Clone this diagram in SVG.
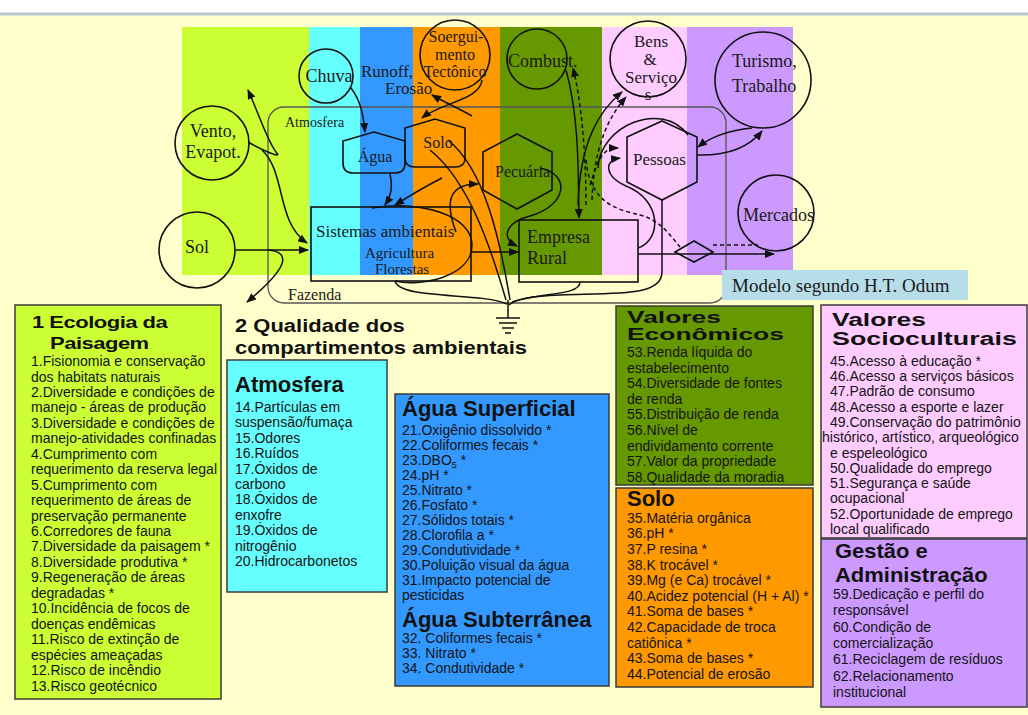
<svg xmlns="http://www.w3.org/2000/svg" width="1028" height="715" viewBox="0 0 1028 715">
<defs>
<style>
.lbl{font-family:"Liberation Serif","Times New Roman",serif;fill:#1a1a1a}
.it{font-family:"Liberation Sans",Arial,sans-serif;font-size:14px;fill:#141414}
.tt{font-family:"Liberation Sans",Arial,sans-serif;font-size:22px;font-weight:bold;fill:#111}
.box{stroke:#3a3a3a;stroke-width:1.5}
.ln{fill:none;stroke:#111;stroke-width:1.5}
.da{stroke-dasharray:4 3}
.sh{fill:none;stroke:#111;stroke-width:1.6}
</style>
<marker id="ah" viewBox="0 0 10 8" refX="9" refY="4" markerWidth="10" markerHeight="8" markerUnits="userSpaceOnUse" orient="auto"><path d="M0,0 L10,4 L0,8 z" fill="#111"/></marker>
</defs>

<!-- background -->
<rect x="0" y="0" width="1028" height="715" fill="#ffffcc"/>
<rect x="0" y="0" width="1028" height="13" fill="#ffffff"/>
<line x1="0" y1="14" x2="1028" y2="14" stroke="#b9cad6" stroke-width="3"/>

<!-- color bands -->
<g id="bands">
<rect x="182" y="27" width="127" height="248" fill="#ccff33"/>
<rect x="309" y="27" width="51" height="248" fill="#66ffff"/>
<rect x="360" y="27" width="53" height="248" fill="#3399ff"/>
<rect x="413" y="27" width="87" height="248" fill="#ff9900"/>
<rect x="500" y="27" width="102" height="248" fill="#669900"/>
<rect x="602" y="27" width="85" height="248" fill="#ffccff"/>
<rect x="687" y="27" width="106" height="248" fill="#cc99ff"/>
</g>

<!-- Fazenda boundary -->
<g id="fazenda">
<rect x="268" y="107" width="458" height="196" rx="16" fill="none" stroke="#555" stroke-width="1.3"/>
<text class="lbl" x="285" y="127" font-size="14">Atmosfera</text>
<text class="lbl" x="288" y="300" font-size="16">Fazenda</text>
</g>

<!-- connectors -->
<g id="connectors">
<path class="ln" d="M248,142 C262,150 284,160 276,152 C268,142 262,122 248,90" marker-end="url(#ah)"/>
<path class="ln" d="M262,150 C286,172 276,222 307,243" marker-end="url(#ah)"/>
<path class="ln" d="M236,250 L308,250" marker-end="url(#ah)"/>
<path class="ln" d="M268,250 C292,252 288,268 247,302" marker-end="url(#ah)"/>
<path class="ln" d="M351,88 C360,100 363,112 365,132" marker-end="url(#ah)"/>
<path class="ln" d="M482,80 C480,100 442,102 422,118" marker-end="url(#ah)"/>
<path class="ln" d="M472,116 C458,108 446,103 432,95" marker-end="url(#ah)"/>
<path class="ln" d="M390,174 C393,188 391,196 385,205" marker-end="url(#ah)"/>
<path class="ln" d="M442,178 C422,188 408,197 395,205" marker-end="url(#ah)"/>
<path class="ln" d="M372,208 C420,200 472,215 472,245 C472,277 420,287 395,281"/>
<path class="ln" d="M456,232 C444,200 450,184 478,184" marker-end="url(#ah)"/>
<path class="ln" d="M430,150 C470,182 492,252 506,300"/>
<path class="ln" d="M448,140 C485,170 500,240 510,300"/>
<path class="ln" d="M471,252 L518,252" marker-end="url(#ah)"/>
<path class="ln" d="M540,168 C572,175 566,206 530,216 C506,222 500,238 517,246" marker-end="url(#ah)"/>
<path class="ln" d="M566,70 C580,120 578,180 579,218" marker-end="url(#ah)"/>
<path class="ln da" d="M586,205 C586,150 581,100 573,68" marker-end="url(#ah)"/>
<path class="ln" d="M578,205 C580,140 600,110 622,92" marker-end="url(#ah)"/>
<path class="ln da" d="M592,200 C594,150 606,120 626,97" marker-end="url(#ah)"/>
<path class="ln da" d="M590,185 C598,160 602,148 618,148" marker-end="url(#ah)"/>
<path class="ln" d="M638,248 C662,240 662,200 626,186 C604,176 604,160 620,158" marker-end="url(#ah)"/>
<path class="ln" d="M598,168 C600,125 662,100 688,135"/>
<path class="ln" d="M752,128 C732,130 712,136 698,147" marker-end="url(#ah)"/>
<path class="ln" d="M697,155 C730,156 750,146 762,131" marker-end="url(#ah)"/>
<path class="ln" d="M638,254 L774,254" marker-end="url(#ah)"/>
<path class="ln da" d="M713,245 L758,245"/>
<path class="ln da" d="M586,160 C590,205 620,210 640,215 C660,220 670,235 680,247"/>
<path class="ln" d="M662,200 L662,272 C662,296 620,293 560,295 C530,296 515,299 509,305"/>
<path class="ln" d="M580,282 C580,296 540,292 512,302"/>
<path class="ln" d="M395,281 C400,300 480,292 507,304"/>
<path class="ln" d="M508,300 L508,318"/>
<path class="ln" d="M496,318 L520,318 M499,323 L517,323 M502,328 L514,328 M505,333 L511,333"/>
</g>

<!-- nodes -->
<g id="n-chuva"><circle class="sh" cx="326" cy="76" r="27"/><text class="lbl" x="329" y="82" font-size="18" text-anchor="middle">Chuva</text></g>
<g id="n-runoff"><text class="lbl" x="361" y="77" font-size="17">Runoff,</text><text class="lbl" x="385" y="94" font-size="17">Erosão</text></g>
<g id="n-soerg"><circle class="sh" cx="455" cy="55" r="35"/><text class="lbl" font-size="16" text-anchor="middle"><tspan x="456" y="42">Soergui-</tspan><tspan x="455" y="60">mento</tspan><tspan x="455" y="77">Tectônico</tspan></text></g>
<g id="n-combust"><circle class="sh" cx="537" cy="59" r="30"/><text class="lbl" x="508" y="67" font-size="18">Combust.</text></g>
<g id="n-bens"><circle class="sh" cx="648" cy="59" r="38"/><text class="lbl" font-size="17" text-anchor="middle"><tspan x="651" y="47">Bens</tspan><tspan x="650" y="65">&amp;</tspan><tspan x="651" y="83">Serviço</tspan><tspan x="648" y="100">s</tspan></text></g>
<g id="n-turismo"><circle class="sh" cx="763" cy="80" r="48"/><text class="lbl" font-size="18"><tspan x="732" y="67">Turismo,</tspan><tspan x="732" y="92">Trabalho</tspan></text></g>
<g id="n-vento"><circle class="sh" cx="212" cy="143" r="37"/><text class="lbl" font-size="18" text-anchor="middle"><tspan x="213" y="137">Vento,</tspan><tspan x="213" y="158">Evapot.</tspan></text></g>
<g id="n-sol"><circle class="sh" cx="197" cy="250" r="38"/><text class="lbl" x="185" y="253" font-size="18">Sol</text></g>
<g id="n-agua"><path class="sh" d="M343,141 L374,132 L405,141 L405,163 Q405,173 395,173 L353,173 Q343,173 343,163 Z"/><text class="lbl" x="375" y="162" font-size="16" text-anchor="middle">Água</text></g>
<g id="n-solo"><path class="sh" d="M405,128 L435,119 L465,128 L465,158 Q465,167 455,167 L415,167 Q405,167 405,158 Z"/><text class="lbl" x="438" y="148" font-size="16" text-anchor="middle">Solo</text></g>
<g id="n-pecuaria"><polygon class="sh" points="517,134 552,152 552,190 517,209 483,190 483,152"/><text class="lbl" x="495" y="177" font-size="16">Pecuária</text></g>
<g id="n-pessoas"><polygon class="sh" points="662,121 697,137 697,182 662,200 627,182 627,137"/><text class="lbl" x="633" y="165" font-size="17">Pessoas</text></g>
<g id="n-mercados"><circle class="sh" cx="776" cy="213" r="38"/><text class="lbl" x="743" y="221" font-size="18">Mercados</text></g>
<g id="n-sistemas"><rect class="sh" x="311" y="207" width="160" height="74"/><text class="lbl" x="316" y="237" font-size="17">Sistemas ambientais</text><text class="lbl" x="365" y="258" font-size="15">Agricultura</text><text class="lbl" x="375" y="274" font-size="15">Florestas</text></g>
<g id="n-empresa"><rect class="sh" x="519" y="220" width="119" height="62"/><text class="lbl" font-size="18"><tspan x="527" y="243">Empresa</tspan><tspan x="527" y="264">Rural</tspan></text></g>
<g id="n-diamond"><polygon class="sh" points="694,241 713,252 694,262 675,252"/></g>
<g id="n-modelo"><rect x="722" y="270" width="246" height="30" fill="#b7dde8"/><text class="lbl" x="732" y="292" font-size="19">Modelo segundo H.T. Odum</text></g>

<!-- 1 Ecologia da Paisagem -->
<g id="box-ecologia">
<rect class="box" x="15" y="305" width="206" height="394" fill="#ccff33"/>
<text class="tt" font-size="23" letter-spacing="-0.5" transform="translate(32,328) scale(1,0.78)">1 Ecologia da</text>
<text class="tt" font-size="23" letter-spacing="-0.5" transform="translate(50,349) scale(1,0.78)">Paisagem</text>
<text class="it">
<tspan x="31" y="366">1.Fisionomia e conservação</tspan>
<tspan x="31" y="381.5">dos habitats naturais</tspan>
<tspan x="31" y="396.9">2.Diversidade e condições de</tspan>
<tspan x="31" y="412.4">manejo - áreas de produção</tspan>
<tspan x="31" y="427.8">3.Diversidade e condições de</tspan>
<tspan x="31" y="443.3">manejo-atividades confinadas</tspan>
<tspan x="31" y="458.7">4.Cumprimento com</tspan>
<tspan x="31" y="474.2">requerimento da reserva legal</tspan>
<tspan x="31" y="489.6">5.Cumprimento com</tspan>
<tspan x="31" y="505">requerimento de áreas de</tspan>
<tspan x="31" y="520.5">preservação permanente</tspan>
<tspan x="31" y="536">6.Corredores de fauna</tspan>
<tspan x="31" y="551.4">7.Diversidade da paisagem *</tspan>
<tspan x="31" y="566.9">8.Diversidade produtiva *</tspan>
<tspan x="31" y="582.3">9.Regeneração de áreas</tspan>
<tspan x="31" y="597.8">degradadas *</tspan>
<tspan x="31" y="613.2">10.Incidência de focos de</tspan>
<tspan x="31" y="628.7">doenças endêmicas</tspan>
<tspan x="31" y="644.1">11.Risco de extinção de</tspan>
<tspan x="31" y="659.6">espécies ameaçadas</tspan>
<tspan x="31" y="675">12.Risco de incêndio</tspan>
<tspan x="31" y="690.5">13.Risco geotécnico</tspan>
</text>
</g>

<!-- 2 Qualidade -->
<g id="heading-qualidade">
<text class="tt" transform="translate(235,332) scale(1,0.85)">2 Qualidade dos</text>
<text class="tt" transform="translate(235,354) scale(1,0.85)">compartimentos ambientais</text>
</g>

<g id="box-atmosfera">
<rect class="box" x="227" y="360" width="160" height="232" fill="#66ffff"/>
<text class="tt" x="235" y="392">Atmosfera</text>
<text class="it">
<tspan x="235" y="412">14.Partículas em</tspan>
<tspan x="235" y="427.4">suspensão/fumaça</tspan>
<tspan x="235" y="442.8">15.Odores</tspan>
<tspan x="235" y="458.2">16.Ruídos</tspan>
<tspan x="235" y="473.6">17.Óxidos de</tspan>
<tspan x="235" y="489">carbono</tspan>
<tspan x="235" y="504.4">18.Óxidos de</tspan>
<tspan x="235" y="519.8">enxofre</tspan>
<tspan x="235" y="535.2">19.Óxidos de</tspan>
<tspan x="235" y="550.6">nitrogênio</tspan>
<tspan x="235" y="566">20.Hidrocarbonetos</tspan>
</text>
</g>

<g id="box-agua">
<rect class="box" x="395" y="394" width="214" height="292" fill="#3399ff"/>
<text class="tt" x="402" y="416">Água Superficial</text>
<text class="it">
<tspan x="402" y="435">21.Oxigênio dissolvido *</tspan>
<tspan x="402" y="450">22.Coliformes fecais *</tspan>
<tspan x="402" y="465">23.DBO</tspan><tspan font-size="9" dy="3">5</tspan><tspan dy="-3"> *</tspan>
<tspan x="402" y="480">24.pH *</tspan>
<tspan x="402" y="495">25.Nitrato *</tspan>
<tspan x="402" y="510">26.Fosfato *</tspan>
<tspan x="402" y="525">27.Sólidos totais *</tspan>
<tspan x="402" y="540">28.Clorofila a *</tspan>
<tspan x="402" y="555">29.Condutividade *</tspan>
<tspan x="402" y="570">30.Poluição visual da água</tspan>
<tspan x="402" y="585">31.Impacto potencial de</tspan>
<tspan x="402" y="600">pesticidas</tspan>
</text>
<text class="tt" x="402" y="627">Água Subterrânea</text>
<text class="it">
<tspan x="402" y="643">32. Coliformes fecais *</tspan>
<tspan x="402" y="658">33. Nitrato *</tspan>
<tspan x="402" y="673">34. Condutividade *</tspan>
</text>
</g>

<g id="box-economicos">
<rect class="box" x="616" y="306" width="197" height="179" fill="#669900"/>
<text class="tt" font-size="19" transform="translate(627,323) scale(1.2,0.75)">Valores</text>
<text class="tt" font-size="19" transform="translate(627,340) scale(1.2,0.75)">Econômicos</text>
<text class="it">
<tspan x="627" y="357">53.Renda líquida do</tspan>
<tspan x="627" y="372.6">estabelecimento</tspan>
<tspan x="627" y="388.2">54.Diversidade de fontes</tspan>
<tspan x="627" y="403.8">de renda</tspan>
<tspan x="627" y="419.4">55.Distribuição de renda</tspan>
<tspan x="627" y="435">56.Nível de</tspan>
<tspan x="627" y="450.6">endividamento corrente</tspan>
<tspan x="627" y="466.2">57.Valor da propriedade</tspan>
<tspan x="627" y="481.5">58.Qualidade da moradia</tspan>
</text>
</g>

<g id="box-solo">
<rect class="box" x="616" y="488" width="197" height="199" fill="#ff9900"/>
<text class="tt" x="627" y="506">Solo</text>
<text class="it">
<tspan x="627" y="522.7">35.Matéria orgânica</tspan>
<tspan x="627" y="538.3">36.pH *</tspan>
<tspan x="627" y="553.9">37.P resina *</tspan>
<tspan x="627" y="569.5">38.K trocável *</tspan>
<tspan x="627" y="585.1">39.Mg (e Ca) trocável *</tspan>
<tspan x="627" y="600.7">40.Acidez potencial (H + Al) *</tspan>
<tspan x="627" y="616.3">41.Soma de bases *</tspan>
<tspan x="627" y="631.9">42.Capacidade de troca</tspan>
<tspan x="627" y="647.5">catiônica *</tspan>
<tspan x="627" y="663.1">43.Soma de bases *</tspan>
<tspan x="627" y="678.7">44.Potencial de erosão</tspan>
</text>
</g>

<g id="box-socio">
<rect class="box" x="821" y="305" width="206" height="233" fill="#ffccff"/>
<text class="tt" font-size="19" transform="translate(832,326) scale(1.2,0.85)">Valores</text>
<text class="tt" font-size="19" transform="translate(832,345) scale(1.22,0.85)">Socioculturais</text>
<text class="it" font-size="13.5">
<tspan x="830" y="365.7">45.Acesso à educação *</tspan>
<tspan x="830" y="381">46.Acesso a serviços básicos</tspan>
<tspan x="830" y="396.3">47.Padrão de consumo</tspan>
<tspan x="830" y="411.6">48.Acesso a esporte e lazer</tspan>
<tspan x="830" y="426.9">49.Conservação do patrimônio</tspan>
<tspan x="822" y="442.2">histórico, artístico, arqueológico</tspan>
<tspan x="830" y="457.5">e espeleológico</tspan>
<tspan x="830" y="472.8">50.Qualidade do emprego</tspan>
<tspan x="830" y="488.1">51.Segurança e saúde</tspan>
<tspan x="830" y="503.4">ocupacional</tspan>
<tspan x="830" y="518.7">52.Oportunidade de emprego</tspan>
<tspan x="830" y="534">local qualificado</tspan>
</text>
</g>

<g id="box-gestao">
<rect class="box" x="821" y="539" width="206" height="168" fill="#cc99ff"/>
<text class="tt" transform="translate(835,558) scale(1,0.9)">Gestão e</text>
<text class="tt" transform="translate(835,582) scale(1,0.9)">Administração</text>
<text class="it" font-size="13.5">
<tspan x="833" y="599">59.Dedicação e perfil do</tspan>
<tspan x="833" y="615.3">responsável</tspan>
<tspan x="833" y="631.6">60.Condição de</tspan>
<tspan x="833" y="647.9">comercialização</tspan>
<tspan x="833" y="664.2">61.Reciclagem de resíduos</tspan>
<tspan x="833" y="680.5">62.Relacionamento</tspan>
<tspan x="833" y="696.8">institucional</tspan>
</text>
</g>
</svg>
